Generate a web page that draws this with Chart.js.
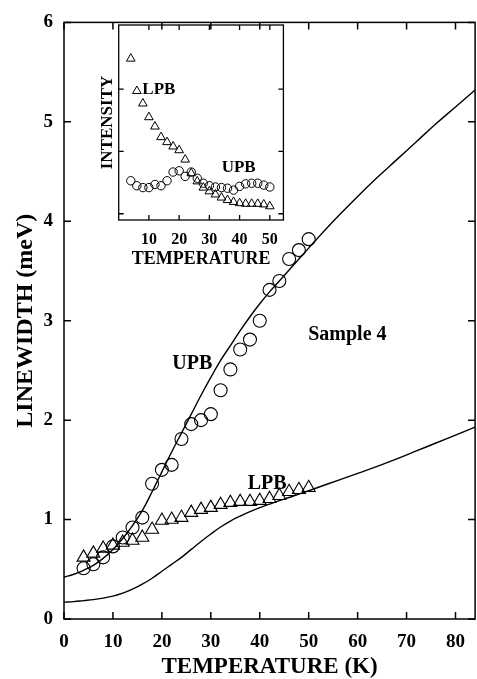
<!DOCTYPE html>
<html>
<head>
<meta charset="utf-8">
<script src="https://cdn.jsdelivr.net/npm/chart.js@4.4.1/dist/chart.umd.min.js"></script>
<style>
  html, body { margin: 0; padding: 0; background: #fff; }
  #wrap { position: relative; width: 477px; height: 679px; overflow: hidden; }
  #main { position: absolute; left: 0; top: 0; }
  #inset { position: absolute; left: 88px; top: 20px; }
</style>
</head>
<body>
<div id="wrap">
  <canvas id="main" width="477" height="679"></canvas>
  <canvas id="inset" width="200" height="252"></canvas>
</div>
<script>
// main panel: linewidth vs temperature
const temps = [4, 6, 8, 10, 12, 14, 16, 18, 20, 22, 24, 26, 28, 30, 32, 34, 36, 38, 40, 42, 44, 46, 48, 50];
const upbWidth = [0.51, 0.55, 0.62, 0.73, 0.82, 0.92, 1.02, 1.36, 1.50, 1.55, 1.81, 1.96, 2.00, 2.06, 2.30, 2.51, 2.71, 2.81, 3.00, 3.31, 3.40, 3.62, 3.71, 3.82];
const lpbWidth = [0.62, 0.66, 0.71, 0.74, 0.77, 0.79, 0.82, 0.90, 0.99, 1.00, 1.02, 1.07, 1.10, 1.12, 1.15, 1.17, 1.18, 1.18, 1.19, 1.21, 1.24, 1.28, 1.30, 1.32];

// fitted curves
const upbFitTemp = [0, 2, 4, 6, 8, 10, 12, 14, 16, 18, 20, 22, 24, 26, 28, 30, 32, 34, 36, 38, 40, 42, 44, 46, 48, 50, 52, 56, 60, 64, 68, 72, 76, 80, 84];
const upbFitWidth = [0.42, 0.45, 0.49, 0.54, 0.61, 0.70, 0.81, 0.94, 1.09, 1.28, 1.48, 1.68, 1.87, 2.06, 2.25, 2.43, 2.60, 2.75, 2.90, 3.04, 3.17, 3.29, 3.40, 3.51, 3.62, 3.73, 3.84, 4.05, 4.25, 4.44, 4.62, 4.80, 4.98, 5.15, 5.32];
const lpbFitTemp = [0, 2, 4, 6, 8, 10, 12, 14, 16, 18, 20, 22, 24, 26, 28, 30, 32, 34, 36, 38, 40, 42, 44, 46, 48, 52, 56, 60, 64, 68, 72, 76, 80, 84];
const lpbFitWidth = [0.17, 0.175, 0.185, 0.195, 0.21, 0.23, 0.26, 0.30, 0.35, 0.41, 0.48, 0.55, 0.62, 0.70, 0.78, 0.855, 0.925, 0.985, 1.035, 1.08, 1.12, 1.155, 1.19, 1.222, 1.255, 1.325, 1.395, 1.465, 1.535, 1.61, 1.69, 1.77, 1.85, 1.93];

const xTicks = [0, 10, 20, 30, 40, 50, 60, 70, 80];
const yTicks = [0, 1, 2, 3, 4, 5, 6];

// inset: intensity vs temperature
const insetUpb = [1.53, 1.45, 1.42, 1.42, 1.47, 1.45, 1.53, 1.67, 1.69, 1.60, 1.67, 1.57, 1.49, 1.45, 1.43, 1.42, 1.41, 1.38, 1.44, 1.48, 1.49, 1.49, 1.46, 1.43];
const insetLpb = [3.49, 2.97, 2.77, 2.55, 2.40, 2.23, 2.15, 2.08, 2.02, 1.87, 1.65, 1.52, 1.42, 1.36, 1.31, 1.26, 1.22, 1.19, 1.17, 1.16, 1.16, 1.16, 1.15, 1.12];
const insetXTicks = [10, 20, 30, 40, 50];
const insetYTicks = [1, 2, 3];

const FONT = "'Liberation Serif', 'Times New Roman', serif";
const pts = (xs, ys) => xs.map((x, i) => ({ x: x, y: ys[i] }));

// box round the plot area, inward tick marks, text labels
const frame = {
    id: 'frame',
    afterDatasetsDraw(chart, args, opts) {
        const { ctx, chartArea: a, scales } = chart;
        ctx.save();
        ctx.strokeStyle = '#000';
        ctx.lineWidth = opts.width;
        ctx.strokeRect(a.left, a.top, a.right - a.left, a.bottom - a.top);
        ctx.beginPath();
        scales.x.ticks.forEach(t => {
            const p = scales.x.getPixelForValue(t.value);
            ctx.moveTo(p, a.bottom); ctx.lineTo(p, a.bottom - opts.len);
            ctx.moveTo(p, a.top); ctx.lineTo(p, a.top + opts.len);
        });
        scales.y.ticks.forEach(t => {
            const p = scales.y.getPixelForValue(t.value);
            ctx.moveTo(a.left, p); ctx.lineTo(a.left + opts.len, p);
            ctx.moveTo(a.right, p); ctx.lineTo(a.right - opts.len, p);
        });
        ctx.stroke();
        ctx.fillStyle = '#000';
        ctx.textAlign = 'center';
        ctx.textBaseline = 'middle';
        opts.labels.forEach(l => {
            ctx.font = 'bold ' + l.size + 'px ' + FONT;
            ctx.fillText(l.text, scales.x.getPixelForValue(l.x), scales.y.getPixelForValue(l.y));
        });
        ctx.restore();
    }
};

const marker = (data, style, r, bw) => ({
    data: data,
    pointStyle: style,
    pointRadius: r,
    pointBorderWidth: bw,
    pointBorderColor: '#000',
    pointBackgroundColor: 'rgba(0,0,0,0)',
    showLine: false
});

const curve = data => ({
    data: data,
    showLine: true,
    pointRadius: 0,
    borderColor: '#000',
    borderWidth: 1.4,
    tension: 0.4
});

const fixTicks = list => scale => { scale.ticks = list.map(v => ({ value: v })); };

new Chart(document.getElementById('main'), {
    type: 'scatter',
    data: {
        datasets: [
            curve(pts(upbFitTemp, upbFitWidth)),
            curve(pts(lpbFitTemp, lpbFitWidth)),
            marker(pts(temps, upbWidth), 'circle', 6.5, 1.1),
            marker(pts(temps, lpbWidth), 'triangle', 7.5, 1.1)
        ]
    },
    options: {
        responsive: false,
        animation: false,
        devicePixelRatio: 1,
        layout: { autoPadding: false, padding: { top: 15, right: 0, left: 0, bottom: 0 } },
        scales: {
            x: {
                type: 'linear',
                min: 0,
                max: 84,
                afterBuildTicks: fixTicks(xTicks),
                afterFit: s => { s.height = 60; },
                grid: { display: false, drawTicks: false },
                border: { display: false },
                ticks: { color: '#000', padding: 12, maxRotation: 0, font: { family: FONT, size: 19, weight: 'bold' } },
                title: {
                    display: true,
                    text: 'TEMPERATURE (K)',
                    color: '#000',
                    padding: { top: 0, bottom: 0 },
                    font: { family: FONT, size: 23, weight: 'bold', lineHeight: 1 }
                }
            },
            y: {
                type: 'linear',
                min: 0,
                max: 6,
                afterBuildTicks: fixTicks(yTicks),
                afterFit: s => { s.width = 64; },
                grid: { display: false, drawTicks: false },
                border: { display: false },
                ticks: { color: '#000', padding: 11, font: { family: FONT, size: 19, weight: 'bold' } },
                title: {
                    display: true,
                    text: 'LINEWIDTH (meV)',
                    color: '#000',
                    padding: { top: 14, bottom: 0 },
                    font: { family: FONT, size: 24, weight: 'bold', lineHeight: 1 }
                }
            }
        },
        plugins: {
            legend: { display: false },
            tooltip: { enabled: false },
            frame: {
                width: 1.5,
                len: 7,
                labels: [
                    { text: 'UPB', x: 26.2, y: 2.57, size: 20 },
                    { text: 'Sample 4', x: 57.9, y: 2.86, size: 20 },
                    { text: 'LPB', x: 41.5, y: 1.36, size: 20 }
                ]
            }
        }
    },
    plugins: [frame]
});

new Chart(document.getElementById('inset'), {
    type: 'scatter',
    data: {
        datasets: [
            marker(pts(temps, insetUpb), 'circle', 4.2, 1),
            marker(pts(temps, insetLpb), 'triangle', 5, 1)
        ]
    },
    options: {
        responsive: false,
        animation: false,
        devicePixelRatio: 1,
        layout: { autoPadding: false, padding: { top: 5, right: 2.3, left: 0, bottom: 0 } },
        scales: {
            x: {
                type: 'linear',
                min: 0,
                max: 54.5,
                afterBuildTicks: fixTicks(insetXTicks),
                afterFit: s => { s.height = 52; },
                grid: { display: false, drawTicks: false },
                border: { display: false },
                ticks: { color: '#000', padding: 10, maxRotation: 0, font: { family: FONT, size: 16, weight: 'bold' } },
                title: {
                    display: true,
                    text: 'TEMPERATURE',
                    color: '#000',
                    padding: { top: 0, bottom: 4 },
                    font: { family: FONT, size: 18, weight: 'bold', lineHeight: 1 }
                }
            },
            y: {
                type: 'linear',
                min: 0.9,
                max: 4.03,
                afterBuildTicks: fixTicks(insetYTicks),
                afterFit: s => { s.width = 30.7; },
                grid: { display: false, drawTicks: false },
                border: { display: false },
                ticks: { display: false },
                title: {
                    display: true,
                    text: 'INTENSITY',
                    color: '#000',
                    padding: { top: 11.5, bottom: 0 },
                    font: { family: FONT, size: 17, weight: 'bold', lineHeight: 1 }
                }
            }
        },
        plugins: {
            legend: { display: false },
            tooltip: { enabled: false },
            frame: {
                width: 1.3,
                len: 5,
                labels: [
                    { text: 'LPB', x: 13.3, y: 3.0, size: 17 },
                    { text: 'UPB', x: 39.7, y: 1.74, size: 17 }
                ]
            }
        }
    },
    plugins: [frame]
});
</script>
</body>
</html>
